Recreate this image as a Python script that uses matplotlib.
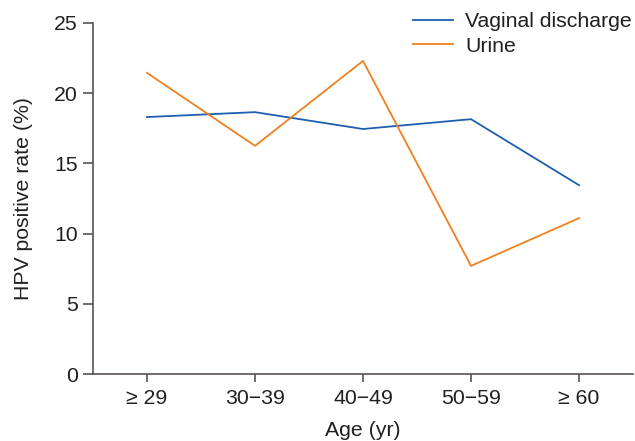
import matplotlib
matplotlib.use("Agg")
import matplotlib.pyplot as plt

plt.rcParams["font.family"] = ["Liberation Sans", "DejaVu Sans"]

age_groups = ["\u2265 29", "30\u221239", "40\u221249", "50\u221259", "\u2265 60"]
vaginal = [18.3, 18.65, 17.45, 18.15, 13.45]
urine = [21.45, 16.25, 22.3, 7.7, 11.1]

spine_col = "#5a5452"
text_col = "#231f20"
fs = 15.3

fig = plt.figure(figsize=(6.35, 4.41), dpi=100)
ax = fig.add_axes([93 / 635, 1 - 374 / 441, 540 / 635, 351 / 441])

x = list(range(len(age_groups)))
ax.plot(x, vaginal, color="#1d5fae", lw=1.3, label="Vaginal discharge")
ax.plot(x, urine, color="#f0801e", lw=1.3, label="Urine")

ax.set_xlim(-0.5, 4.5)
ax.set_ylim(0, 25)
ax.set_xticks(x)
ax.set_xticklabels(age_groups)
ax.set_yticks([0, 5, 10, 15, 20, 25])

for s in ["top", "right"]:
    ax.spines[s].set_visible(False)
for s in ["left", "bottom"]:
    ax.spines[s].set_color(spine_col)
    ax.spines[s].set_linewidth(1.2)

ax.tick_params(axis="x", direction="out", length=6, width=1.2, color=spine_col,
               labelsize=fs, labelcolor=text_col, pad=5)
ax.tick_params(axis="y", direction="out", length=7, width=1.2, color=spine_col,
               labelsize=fs, labelcolor=text_col, pad=4)

ax.set_xlabel("Age (yr)", fontsize=fs, color=text_col, labelpad=9)
ax.set_ylabel("HPV positive rate (%)", fontsize=fs, color=text_col, labelpad=15)

ax.legend(loc="upper left", bbox_to_anchor=(413 / 635, 1 - 12 / 441),
          bbox_transform=fig.transFigure, frameon=False, fontsize=fs,
          handlelength=1.9, handletextpad=0.55, labelspacing=0.26,
          borderpad=0, borderaxespad=0, labelcolor=text_col)

fig.savefig("out.png", dpi=100)
